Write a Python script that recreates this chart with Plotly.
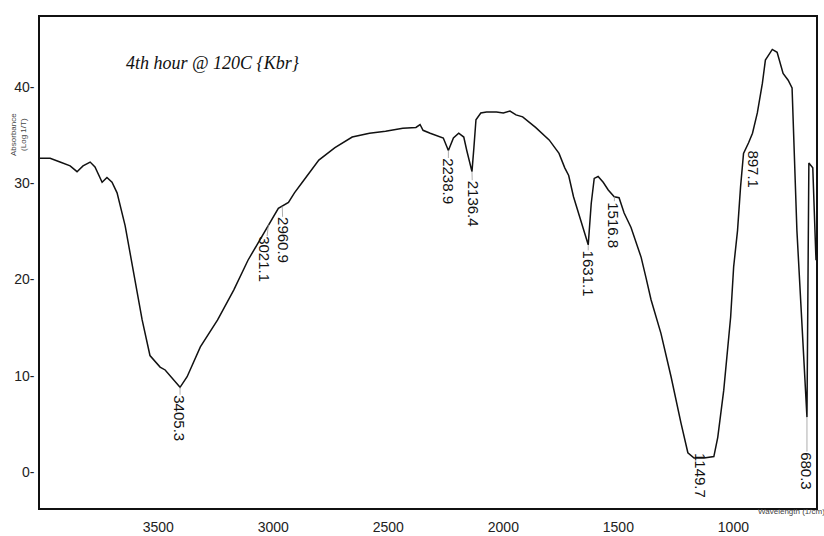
import plotly.graph_objects as go

# ---- data ----
wavenumber = [4014, 3970, 3927, 3883, 3853, 3827, 3796, 3775, 3744, 3723,
              3701, 3679, 3644, 3610, 3570, 3536, 3492, 3470, 3436, 3405.3,
              3374.5, 3317, 3242, 3172, 3110, 3053, 3009, 2978, 2934, 2908,
              2877, 2802, 2732, 2657, 2582, 2512, 2437, 2380, 2362, 2349,
              2318, 2292, 2274, 2261, 2238.9, 2217, 2194, 2172, 2159, 2136.4,
              2128, 2119, 2098, 2073, 2030, 2000, 1971, 1945, 1916, 1860,
              1801, 1758, 1733, 1716, 1695, 1673, 1652, 1631.1, 1618, 1605,
              1588, 1566, 1544, 1518, 1497, 1475, 1445, 1401, 1380, 1358,
              1315, 1271, 1228, 1198, 1171, 1149.7, 1128, 1085, 1068, 1042,
              1012, 999, 982, 969, 956, 934, 917, 896, 874, 861,
              831, 810, 784, 762, 745, 724, 680.3, 672, 655, 641]
absorbance = [32.6, 32.6, 32.2, 31.8, 31.2, 31.8, 32.2, 31.7, 30.1, 30.6,
              30.1, 29.0, 25.6, 21.0, 15.8, 12.1, 10.9, 10.6, 9.6, 8.8,
              9.9, 13.0, 15.8, 18.9, 22.0, 24.4, 26.2, 27.4, 28.0, 29.0,
              30.0, 32.4, 33.7, 34.8, 35.2, 35.4, 35.7, 35.8, 36.1, 35.5,
              35.2, 35.0, 34.8, 34.7, 33.4, 34.7, 35.2, 34.8, 33.4, 31.2,
              33.7, 36.6, 37.3, 37.4, 37.4, 37.3, 37.5, 37.1, 36.9, 35.8,
              34.5, 33.1, 31.6, 30.8, 28.6, 26.9, 25.1, 23.6, 27.9, 30.5,
              30.7, 30.1, 29.3, 28.6, 28.5, 26.9, 25.4, 22.3, 20.2, 17.9,
              14.4, 9.9, 5.1, 2.0, 1.45, 1.45, 1.45, 1.6, 3.6, 8.5,
              16.1, 21.3, 25.1, 29.6, 33.1, 34.2, 35.2, 37.3, 40.4, 42.8,
              43.9, 43.6, 41.4, 40.7, 39.9, 25.1, 5.7, 32.1, 31.6, 22.0]

peak_wn = [3405.3, 3021.1, 2960.9, 2238.9, 2136.4, 1631.1, 1516.8, 1149.7, 897.1, 680.3]
peak_y = [8.8, 25.7, 27.6, 33.4, 31.2, 23.6, 28.6, 1.45, 33.4, 5.7]

x_ticks = [3500, 3000, 2500, 2000, 1500, 1000]
y_ticks = [0, 10, 20, 30, 40]

title_text = "4th hour @ 120C {Kbr}"
x_title = "Wavelength (1/cm)"
y_title = "Absorbance<br>(Log 1/T)"

# label offsets in pixels (style, not data)
label_offsets = [(0, 31), (-4, 35), (1, 34), (0, 31), (1, 32),
                 (0, 29), (-1, 28), (2, 18), (-4, 19), (0, 54)]

FONT = "Liberation Sans, Arial, sans-serif"
L, R, T, B = 40, 8, 17, 28
PW, PH = 824 - L - R, 536 - T - B


def px(x):
    return (x - L) / PW


def py(y):
    return (536 - B - y) / PH


fig = go.Figure()
fig.add_trace(go.Scatter(
    x=wavenumber, y=absorbance, mode="lines",
    line=dict(color="#111111", width=1.5),
    hoverinfo="skip", showlegend=False,
))

for wn, yv, (ax, ay) in zip(peak_wn, peak_y, label_offsets):
    fig.add_annotation(
        x=wn, y=yv, xref="x", yref="y",
        text=f"{wn:.1f}", textangle=90,
        showarrow=True, arrowhead=0, arrowwidth=0.8, arrowcolor="#999999",
        ax=ax, ay=ay, standoff=0, startstandoff=0,
        font=dict(family=FONT, size=15, color="#111111"),
        borderpad=0,
    )

fig.add_annotation(
    x=px(213), y=py(63), xref="paper", yref="paper",
    xanchor="center", yanchor="middle",
    text=title_text, showarrow=False,
    font=dict(family="Liberation Serif, serif", size=18, color="#111111", style="italic"),
)
fig.add_annotation(
    x=px(756), y=py(512), xref="paper", yref="paper",
    xanchor="left", yanchor="middle",
    text=x_title, showarrow=False,
    font=dict(family=FONT, size=8, color="#444444"),
)
fig.add_annotation(
    x=px(18), y=py(135), xref="paper", yref="paper",
    xanchor="center", yanchor="middle",
    text=y_title, textangle=-90, showarrow=False,
    font=dict(family=FONT, size=8, color="#444444"),
)

fig.update_layout(
    width=824, height=536,
    margin=dict(l=L, r=R, t=T, b=B, autoexpand=False),
    paper_bgcolor="white", plot_bgcolor="white",
    xaxis=dict(
        range=[4014, 641], tickvals=x_ticks,
        ticktext=[str(v) for v in x_ticks],
        showline=True, mirror=True, linecolor="#111111", linewidth=1.5,
        showgrid=False, zeroline=False, ticks="",
        ticklabelstandoff=5, automargin=False,
        tickfont=dict(family=FONT, size=14, color="#222222"),
    ),
    yaxis=dict(
        range=[-3.74, 47.27], tickvals=y_ticks,
        ticktext=[f"{v}-" for v in y_ticks],
        showline=True, mirror=True, linecolor="#111111", linewidth=1.5,
        showgrid=False, zeroline=False, ticks="",
        ticklabelstandoff=1, automargin=False,
        tickfont=dict(family=FONT, size=14, color="#222222"),
    ),
)

fig.write_html("out.html")
